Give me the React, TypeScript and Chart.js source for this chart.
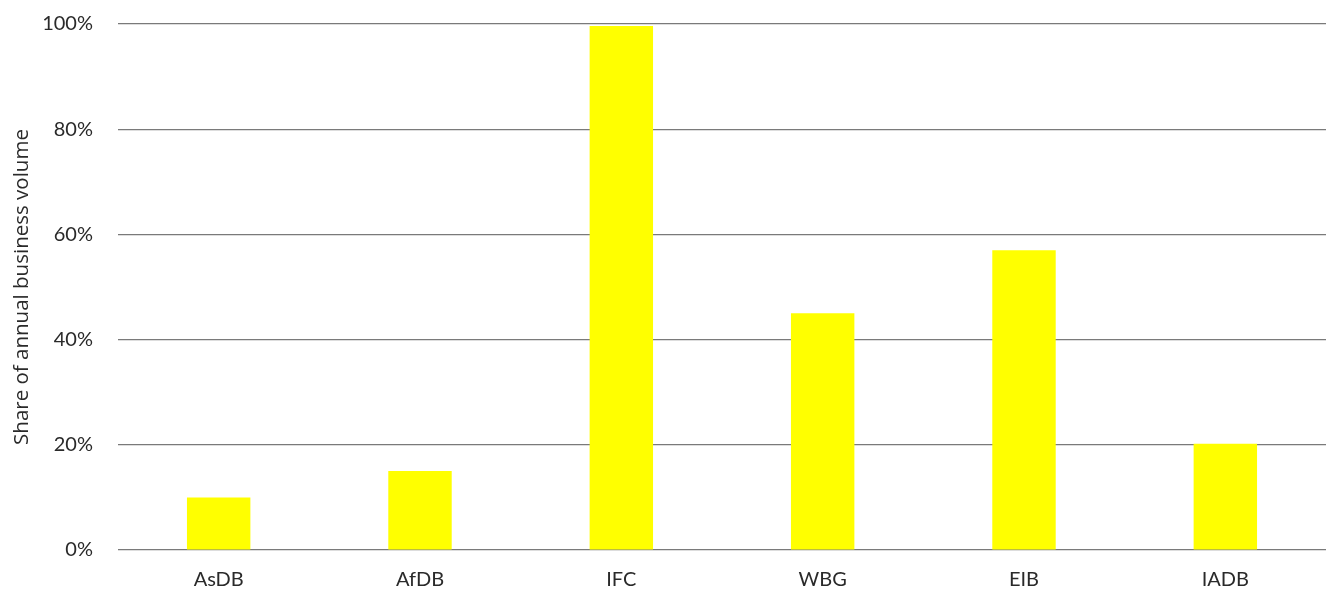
import React, { useEffect, useRef } from "react";
import { Chart, registerables } from "chart.js";

Chart.register(...registerables);

const categories = ["AsDB", "AfDB", "IFC", "WBG", "EIB", "IADB"];
const shareValues = [10, 15, 99.6, 45, 57, 20.2];
const yTicks = [0, 20, 40, 60, 80, 100];
const yTitle = "Share of annual business volume";

export default function App() {
  const ref = useRef<HTMLCanvasElement | null>(null);
  useEffect(() => {
    document.body.style.margin = "0";
    const ctx = ref.current;
    if (!ctx) return;
    const font = { family: "Lato, 'Open Sans', sans-serif", size: 20 };
    const chart = new Chart(ctx, {
      type: "bar",
      data: {
        labels: categories,
        datasets: [
          {
            data: shareValues,
            backgroundColor: "#ffff00",
            borderWidth: 0,
            barPercentage: 0.315,
            categoryPercentage: 1,
          },
        ],
      },
      options: {
        animation: false,
        responsive: false,
        maintainAspectRatio: false,
        layout: { padding: { top: 24, right: 0, left: 0, bottom: 0 } },
        plugins: { legend: { display: false }, tooltip: { enabled: false } },
        scales: {
          x: {
            grid: { display: false, drawTicks: false },
            border: { display: false },
            ticks: { color: "#2a2a2a", font, padding: 18 },
            afterFit: (s: any) => {
              s.height = 40;
              s.paddingLeft = 0;
              s.paddingRight = 0;
            },
          },
          y: {
            min: 0,
            max: 100,
            afterBuildTicks: (s: any) => {
              s.ticks = yTicks.map((v) => ({ value: v }));
            },
            grid: { color: "#7a7a7a", lineWidth: 1.2, drawTicks: false },
            border: { display: false },
            ticks: {
              color: "#2a2a2a",
              font,
              padding: 25,
              callback: (v: any) => v + "%",
            },
            title: {
              display: true,
              text: yTitle,
              color: "#2a2a2a",
              font: { family: "'Open Sans', Lato, sans-serif", size: 20.5 },
              padding: { top: 10, bottom: 0 },
            },
            afterFit: (s: any) => {
              s.width = 118;
              s.paddingTop = 0;
              s.paddingBottom = 0;
            },
          },
        },
      },
    });
    return () => chart.destroy();
  }, []);
  return (
    <div style={{ width: 1326, height: 590 }}>
      <canvas ref={ref} width={1326} height={590} />
    </div>
  );
}
